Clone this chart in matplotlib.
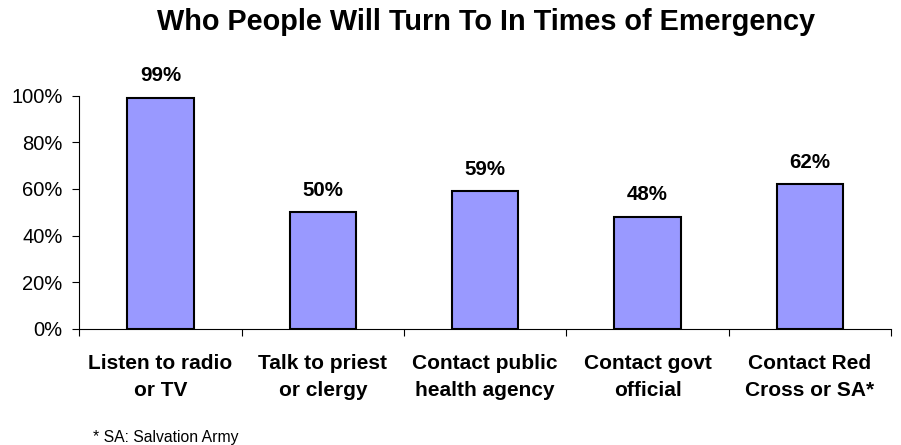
import matplotlib.pyplot as plt
from matplotlib.ticker import PercentFormatter

plt.rcParams["font.family"] = ["Liberation Sans", "DejaVu Sans"]

# Data
categories = ["Listen to radio\nor TV", "Talk to priest\nor clergy",
              "Contact public\nhealth agency", "Contact govt\nofficial",
              "Contact Red\nCross or SA*"]
values = [99, 50, 59, 48, 62]

fig = plt.figure(figsize=(9.01, 4.45), dpi=100)
ax = fig.add_axes([0.088, 0.261, 0.901, 0.524])

x = range(len(categories))
ax.bar(x, values, width=0.41, color="#9999FF", edgecolor="black", linewidth=1.5)

for i, v in zip(x, values):
    ax.annotate(f"{v}%", (i, v), xytext=(0, 12), textcoords="offset points",
                ha="center", va="baseline", fontsize=14.8, fontweight="bold")

ax.set_xlim(-0.5, len(categories) - 0.5)
ax.set_ylim(0, 100)
ax.set_yticks(range(0, 101, 20))
ax.yaxis.set_major_formatter(PercentFormatter(decimals=0))
ax.tick_params(axis="y", labelsize=14.5, length=5, width=0.8, pad=7)

ax.set_xticks([i - 0.5 for i in range(len(categories) + 1)], minor=True)
ax.set_xticks(list(x))
ax.set_xticklabels(categories, fontsize=15, fontweight="bold", linespacing=1.55)
ax.tick_params(axis="x", which="major", length=0, pad=18)
ax.tick_params(axis="x", which="minor", length=5, width=0.8)

for s in ["top", "right"]:
    ax.spines[s].set_visible(False)

fig.text(0.539, 0.95, "Who People Will Turn To In Times of Emergency",
         ha="center", va="center", fontsize=20.8, fontweight="bold")
fig.text(0.103, 0.017, "* SA: Salvation Army", fontsize=11.3, va="center")

fig.savefig("out.png", dpi=100)
